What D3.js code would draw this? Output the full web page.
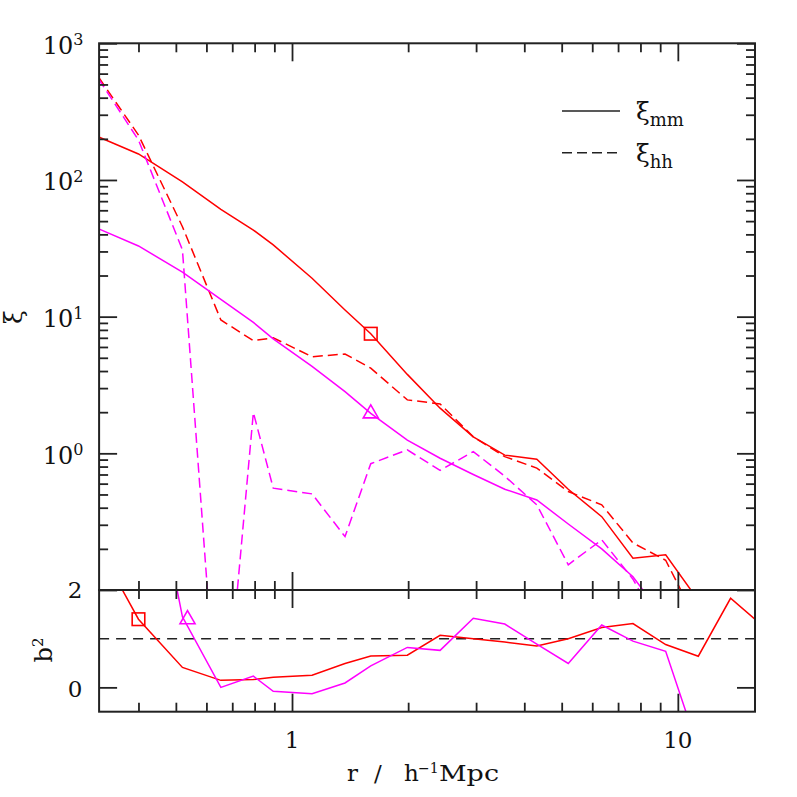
<!DOCTYPE html>
<html>
<head>
<meta charset="utf-8">
<script src="https://cdn.jsdelivr.net/npm/d3@7"></script>
<style>
  body { margin: 0; background: #fff; }
  text { font-family: "DejaVu Serif", serif; fill: #111; }
</style>
</head>
<body>
<svg id="chart"></svg>
<script>
// separation bins, r in h^-1 Mpc
const rBins = [0.30, 0.40, 0.52, 0.654, 0.794, 0.894, 1.127, 1.372, 1.60, 1.99, 2.42,
               2.95, 3.56, 4.31, 5.20, 6.35, 7.65, 9.30, 11.3, 13.7, 16.6];

// correlation functions (top panel)
const xiMmRed = [219, 155, 97, 61, 43, 33.5, 19.1, 11.2, 7.5, 3.78, 2.14,
                 1.32, 0.97, 0.905, 0.546, 0.344, 0.171, 0.181, 0.084, 0.04, 0.03];
const xiHhRed = [692, 213, 45.5, 9.46, 6.67, 7.0, 5.09, 5.33, 4.2, 2.46, 2.3,
                 1.32, 0.946, 0.78, 0.525, 0.42, 0.221, 0.165, 0.056, 0.073, 0.038];
const xiMmMag = [46.6, 32.9, 21.2, 13.4, 9.08, 6.87, 4.33, 2.83, 1.96, 1.25, 0.92,
                 0.70, 0.546, 0.456, 0.304, 0.20, 0.125, 0.06, 0.04, null, null];
const xiHhMag = [680, 196, 30.8, 0.0046, 1.99, 0.556, 0.505, 0.246, 0.84, 1.06, 0.75,
                 1.03, 0.68, 0.42, 0.153, 0.233, 0.12, 0.045, null, null, null];

// bias squared (bottom panel)
const b2Red = [3.2, 1.40, 0.41, 0.144, 0.16, 0.21, 0.25, 0.49, 0.645, 0.66, 1.07,
               1.00, 0.93, 0.85, 1.00, 1.23, 1.31, 0.88, 0.64, 1.83, 1.26];
const b2Mag = [14.6, 6.0, 1.45, 0.0, 0.23, -0.08, -0.13, 0.09, 0.44, 0.82, 0.76,
               1.42, 1.30, 0.89, 0.49, 1.28, 0.95, 0.74, -1.26, null, null];

// marker positions
const topMarkR = [1.6, 1.6];
const topMarkV = [7.5, 1.96];
const botMarkR = [0.40, 0.536];
const botMarkV = [1.40, 1.40];

const xMajor = [1, 10];
const xMinor = [0.4, 0.5, 0.6, 0.7, 0.8, 0.9, 2, 3, 4, 5, 6, 7, 8, 9];
const yTopMajor = [0.1, 1, 10, 100, 1000];
const yTopLabels = [0, 1, 2, 3];
const yBotMajor = [0];
const yBotLabels = [0, 2];

const RED = '#ff0000', MAG = '#ff00ff', INK = '#222';

const config = {
  width: 797, height: 797,
  left: 99.1, right: 755, top: 43.3, split: 590, bottom: 711.7,
  major: 18, minor: 9
};

const svg = d3.select('#chart')
    .attr('width', config.width)
    .attr('height', config.height);

svg.append('rect').attr('width', config.width).attr('height', config.height).attr('fill', '#fff');

const x = d3.scaleLog().domain([Math.pow(10, -0.5), Math.pow(10, 1.2)]).range([config.left, config.right]);
const yTop = d3.scaleLog().domain([0.1, 1000]).range([config.split, config.top]);
const yBot = d3.scaleLinear().domain([-0.5, 2]).range([config.bottom, config.split]);

let yTopMinor = [];
[0.1, 1, 10, 100].forEach(d => { for (let k = 2; k <= 9; k++) yTopMinor.push(d * k); });

// clip paths
const defs = svg.append('defs');
defs.append('clipPath').attr('id', 'clipTop').append('rect')
    .attr('x', config.left).attr('y', config.top)
    .attr('width', config.right - config.left).attr('height', config.split - config.top);
defs.append('clipPath').attr('id', 'clipBot').append('rect')
    .attr('x', config.left).attr('y', config.split)
    .attr('width', config.right - config.left).attr('height', config.bottom - config.split);

// data lines
const zip = vals => rBins.map((r, i) => [r, vals[i]]);

const lineTop = d3.line()
    .defined(d => d[1] != null && d[1] > 0)
    .x(d => x(d[0]))
    .y(d => yTop(d[1]));

const lineBot = d3.line()
    .defined(d => d[1] != null)
    .x(d => x(d[0]))
    .y(d => yBot(d[1]));

const topSeries = [
  {vals: xiMmRed, color: RED, dash: null},
  {vals: xiHhRed, color: RED, dash: '10,5'},
  {vals: xiMmMag, color: MAG, dash: null},
  {vals: xiHhMag, color: MAG, dash: '10,5'}
];

const gTop = svg.append('g').attr('clip-path', 'url(#clipTop)');
gTop.selectAll('path')
    .data(topSeries)
    .enter().append('path')
    .attr('d', d => lineTop(zip(d.vals)))
    .attr('fill', 'none')
    .attr('stroke', d => d.color)
    .attr('stroke-width', 1.5)
    .attr('stroke-dasharray', d => d.dash);

const gBot = svg.append('g').attr('clip-path', 'url(#clipBot)');

gBot.append('line')
    .attr('x1', config.left).attr('x2', config.right)
    .attr('y1', yBot(1)).attr('y2', yBot(1))
    .attr('stroke', INK).attr('stroke-width', 1.6)
    .attr('stroke-dasharray', '10,7');

gBot.selectAll('path.b2')
    .data([{vals: b2Red, color: RED}, {vals: b2Mag, color: MAG}])
    .enter().append('path')
    .attr('class', 'b2')
    .attr('d', d => lineBot(zip(d.vals)))
    .attr('fill', 'none')
    .attr('stroke', d => d.color)
    .attr('stroke-width', 1.5);

// markers: square for red, triangle for magenta
function marker(g, cx, cy, kind, color) {
  if (kind === 'square') {
    g.append('rect')
        .attr('x', cx - 6.3).attr('y', cy - 6.3)
        .attr('width', 12.6).attr('height', 12.6)
        .attr('fill', 'none').attr('stroke', color).attr('stroke-width', 1.6);
  } else {
    g.append('path')
        .attr('d', `M${cx},${cy - 8.5}L${cx + 7.5},${cy + 4.5}L${cx - 7.5},${cy + 4.5}Z`)
        .attr('fill', 'none').attr('stroke', color).attr('stroke-width', 1.6);
  }
}
marker(svg, x(topMarkR[0]), yTop(topMarkV[0]), 'square', RED);
marker(svg, x(topMarkR[1]), yTop(topMarkV[1]), 'triangle', MAG);
marker(svg, x(botMarkR[0]), yBot(botMarkV[0]), 'square', RED);
marker(svg, x(botMarkR[1]), yBot(botMarkV[1]), 'triangle', MAG);

// ticks
function ticks(axisFn, scale, values, size, tx, ty) {
  const g = svg.append('g')
      .attr('transform', `translate(${tx},${ty})`)
      .attr('color', INK)
      .call(axisFn(scale).tickValues(values).tickSize(size).tickFormat(''));
  g.select('.domain').remove();
  g.selectAll('line').attr('stroke-width', 1.8);
}

[[xMajor, config.major], [xMinor, config.minor]].forEach(([vals, len]) => {
  ticks(d3.axisBottom, x, vals, len, 0, config.top);
  ticks(d3.axisTop, x, vals, len, 0, config.split);
  ticks(d3.axisBottom, x, vals, len, 0, config.split);
  ticks(d3.axisTop, x, vals, len, 0, config.bottom);
});
[[yTopMajor, config.major], [yTopMinor, config.minor]].forEach(([vals, len]) => {
  ticks(d3.axisRight, yTop, vals, len, config.left, 0);
  ticks(d3.axisLeft, yTop, vals, len, config.right, 0);
});
ticks(d3.axisRight, yBot, yBotMajor, config.major, config.left, 0);
ticks(d3.axisLeft, yBot, yBotMajor, config.major, config.right, 0);

// frames
[[config.top, config.split], [config.split, config.bottom]].forEach(([t, b]) => {
  svg.append('rect')
      .attr('x', config.left).attr('y', t)
      .attr('width', config.right - config.left).attr('height', b - t)
      .attr('fill', 'none').attr('stroke', INK).attr('stroke-width', 2);
});

// tick labels
yTopLabels.forEach(p => {
  const t = svg.append('text')
      .attr('x', 83.5).attr('y', yTop(Math.pow(10, p)) + 10.5)
      .attr('text-anchor', 'end')
      .style('font-size', '24px');
  t.append('tspan').text('10');
  t.append('tspan').attr('dy', -8.5).style('font-size', '16px').text(p);
});

yBotLabels.forEach(v => {
  svg.append('text')
      .attr('x', 82.5).attr('y', yBot(v) + (v === 2 ? 8 : 10))
      .attr('text-anchor', 'end')
      .style('font-size', '23px')
      .text(v);
});

xMajor.forEach(v => {
  svg.append('text')
      .attr('x', x(v)).attr('y', 748)
      .attr('text-anchor', 'middle')
      .style('font-size', '23px')
      .text(v);
});

// axis titles: x title placed piece by piece, wide like the original lettering
const xTitle = svg.append('g').style('font-size', '23px');
xTitle.append('text').attr('x', 347).attr('y', 781).text('r');
xTitle.append('text').attr('x', 374).attr('y', 781).text('/');
xTitle.append('text').attr('x', 404).attr('y', 781).text('h');
xTitle.append('text').attr('x', 418).attr('y', 773).style('font-size', '14px').text('\u22121');
xTitle.append('text').attr('x', 439).attr('y', 781)
    .attr('textLength', 60).attr('lengthAdjust', 'spacingAndGlyphs')
    .text('Mpc');

svg.append('text')
    .attr('transform', 'translate(22,317) rotate(-90)')
    .attr('text-anchor', 'middle')
    .style('font-size', '25px')
    .text('\u03be');

const bt = svg.append('text')
    .attr('transform', 'translate(52,650) rotate(-90)')
    .attr('text-anchor', 'middle')
    .style('font-size', '24px');
bt.append('tspan').text('b');
bt.append('tspan').attr('dy', -9).style('font-size', '15px').text('2');

// legend
const legend = [
  {sub: 'mm', dash: null, y: 111},
  {sub: 'hh', dash: '10,5', y: 152.7}
];
legend.forEach(d => {
  svg.append('line')
      .attr('x1', 562).attr('x2', 620)
      .attr('y1', d.y).attr('y2', d.y)
      .attr('stroke', INK).attr('stroke-width', 1.6)
      .attr('stroke-dasharray', d.dash);
  const t = svg.append('text')
      .attr('x', 636).attr('y', d.y + 9)
      .style('font-size', '25px');
  t.append('tspan').text('\u03be');
  t.append('tspan').attr('dy', 6).style('font-size', '18px').text(d.sub);
});
</script>
</body>
</html>
